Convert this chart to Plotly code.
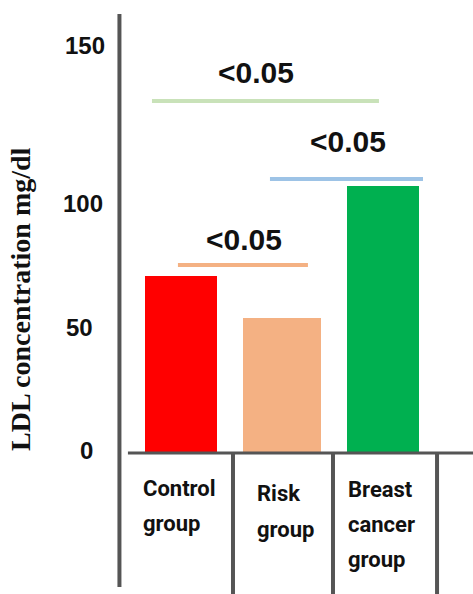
import plotly.graph_objects as go

# LDL concentration (mg/dl) per study group
groups = ["Control group", "Risk group", "Breast cancer group"]
ldl_values = [71, 54, 107]
p_labels = ["<0.05", "<0.05", "<0.05"]
tick_labels = ["0", "50", "100", "150"]

bar_colors = ["#ff0000", "#f4b183", "#00b050"]
bar_widths = [0.71, 0.77, 0.72]
x_pos = [0, 1, 2]

AXIS_GREY = "#555555"
TEXT = "#111111"

fig = go.Figure()
fig.add_trace(go.Bar(
    x=x_pos, y=ldl_values, width=bar_widths,
    marker=dict(color=bar_colors, line=dict(width=0)),
    showlegend=False, hoverinfo="skip",
))

shapes = []
annotations = []

# vertical axis line and baseline
shapes.append(dict(type="line", xref="x", yref="y", x0=-0.609, x1=-0.609,
                   y0=-53.6, y1=175.6, line=dict(color=AXIS_GREY, width=4)))
shapes.append(dict(type="line", xref="x", yref="y", x0=-0.525, x1=2.95,
                   y0=0, y1=0, line=dict(color=AXIS_GREY, width=3)))
# table dividers under the bars
for xd in [0.515, 1.505, 2.535]:
    shapes.append(dict(type="line", xref="x", yref="y", x0=xd, x1=xd,
                       y0=0, y1=-60, line=dict(color=AXIS_GREY, width=4)))

# significance bars: (x start, x end, level, label level, label x, colour)
brackets = [
    (-0.287, 1.96, 140.8, 152.4, 0.743, "#c9e2b9"),
    (0.881, 2.396, 109.6, 124.8, 1.653, "#9dc3e6"),
    (-0.03, 1.257, 75.2, 85.6, 0.624, "#f4b183"),
]
for (xa, xb, lvl, ty, tx, col), lab in zip(brackets, p_labels):
    shapes.append(dict(type="line", xref="x", yref="y", x0=xa, x1=xb,
                       y0=lvl, y1=lvl, line=dict(color=col, width=4)))
    annotations.append(dict(x=tx, y=ty, xref="x", yref="y", text=lab,
                            showarrow=False, xanchor="center", yanchor="middle",
                            font=dict(family="Liberation Sans, Arial", size=30,
                                      color=TEXT, weight="bold")))

# tick labels (paper x of label centre, y value)
tick_layout = [(-0.08, 1.2), (-0.10, 50.4), (-0.09, 100), (-0.083, 163.2)]
for lab, (px, yv) in zip(tick_labels, tick_layout):
    annotations.append(dict(x=px, y=yv, xref="paper", yref="y", text=lab,
                            showarrow=False, xanchor="center", yanchor="middle",
                            font=dict(family="Liberation Sans, Arial", size=24,
                                      color=TEXT, weight="bold")))

# category labels, one word per line
cat_layout = [(-0.396, [-14, -28]), (0.733, [-16, -30.4]), (1.634, [-14.4, -28.4, -42.4])]
for name, (xl, ys) in zip(groups, cat_layout):
    for word, yv in zip(name.split(" "), ys):
        annotations.append(dict(x=xl, y=yv, xref="x", yref="y", text=word,
                                showarrow=False, xanchor="left", yanchor="middle",
                                font=dict(family="Roboto, Arial Narrow",
                                          size=22, color=TEXT, weight="bold")))

# y-axis title
annotations.append(dict(x=-0.262, y=0.497, xref="paper", yref="paper",
                        text="LDL concentration mg/dl", textangle=-90,
                        showarrow=False, xanchor="center", yanchor="middle",
                        font=dict(family="Liberation Serif, Times New Roman", size=28,
                                  color=TEXT, weight="bold")))

fig.update_layout(
    width=473, height=594,
    margin=dict(l=115, r=0, t=0, b=0),
    paper_bgcolor="white", plot_bgcolor="white",
    xaxis=dict(range=[-0.653, 2.891], visible=False, fixedrange=True),
    yaxis=dict(range=[-56.4, 181.2], visible=False, fixedrange=True),
    shapes=shapes, annotations=annotations,
    bargap=0,
)

fig.write_html("out.html")
